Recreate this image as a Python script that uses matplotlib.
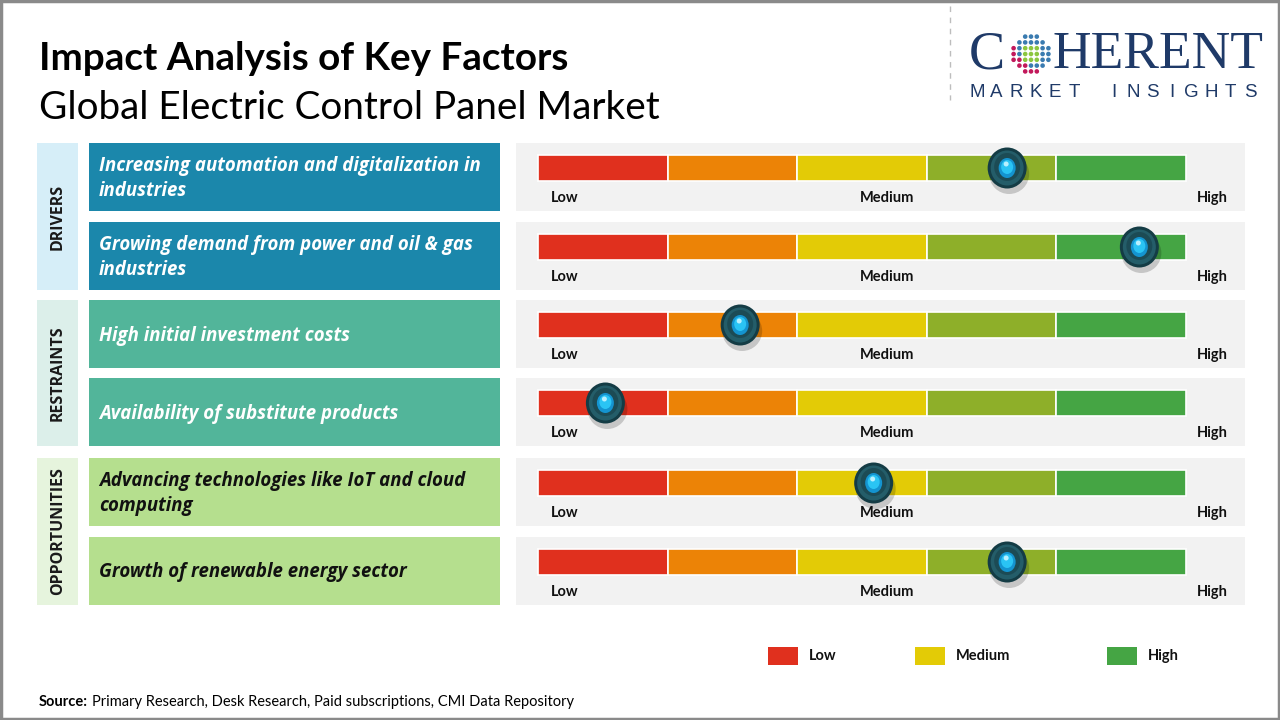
import numpy as np
import matplotlib
matplotlib.use("Agg")
import matplotlib.pyplot as plt
from matplotlib.patches import Rectangle, Circle, Ellipse

# data
groups = ["DRIVERS", "RESTRAINTS", "OPPORTUNITIES"]
factors = [
    "Increasing automation and digitalization in\nindustries",
    "Growing demand from power and oil & gas\nindustries",
    "High initial investment costs",
    "Availability of substitute products",
    "Advancing technologies like IoT and cloud\ncomputing",
    "Growth of renewable energy sector",
]
factor_group = [0, 0, 1, 1, 2, 2]
# impact position on a 0 (low) .. 5 (high) scale
impact = [3.62, 4.64, 1.56, 0.52, 2.59, 3.62]

segment_colors = ["#e0301e", "#ec8306", "#e3cb06", "#8eaf29", "#45a544"]
legend_labels = ["Low", "Medium", "High"]
legend_colors = ["#e0301e", "#e3cb06", "#45a544"]

box_colors = ["#1b87ab", "#52b59a", "#b5df8e"]
band_colors = ["#d6eef8", "#dcefea", "#e6f4dd"]
text_colors = ["white", "white", "#111111"]

W, H = 1280, 720
fig = plt.figure(figsize=(12.8, 7.2), dpi=100)
ax = fig.add_axes([0, 0, 1, 1])
ax.set_xlim(0, W)
ax.set_ylim(H, 0)
ax.axis("off")

# border
ax.add_patch(Rectangle((1, 1), W - 2, H - 2, fill=False, ec="#8a8a8a", lw=2.5))

# titles
ax.text(39, 58, "Impact Analysis of Key Factors", fontsize=27.8, fontweight="bold",
        family="Lato", va="center", ha="left", color="#000000")
ax.text(39, 108, "Global Electric Control Panel Market", fontsize=27.8,
        family="Lato", va="center", ha="left", color="#000000")

# logo
ax.plot([950, 950], [6, 100], ls=(0, (4, 4)), color="#bdbdbd", lw=1)
navy = "#1f3a68"
ax.text(969, 68.5, "C", fontsize=39, family="Liberation Serif", color=navy,
        va="baseline", ha="left")
ax.text(1053, 68.5, "HERENT", fontsize=38.5, family="Liberation Serif", color=navy,
        va="baseline", ha="left")
gx, gy = 1031, 54
for i in range(-3, 4):
    for j in range(-3, 4):
        px, py = gx + i * 5.8, gy + j * 5.8
        d = np.hypot(i, j)
        if d > 3.3:
            continue
        if d < 1.6:
            c = "#8cc63f"
        elif (i <= -1 and j >= 1 and d > 2.2) or (j >= 3) or (i <= -3):
            c = "#c2185b"
        else:
            c = "#3a7bb0"
        ax.add_patch(Circle((px, py), 2.3, color=c, lw=0))
letters = "MARKET INSIGHTS"
lx = np.linspace(977, 1250, len(letters))
for ch, x in zip(letters, lx):
    ax.text(x, 97, ch, fontsize=13.5, family="Liberation Sans", color=navy,
            va="baseline", ha="center")

# group bands
row_top = [143, 222, 300, 378, 458, 537]
row_h = 68
for g, name in enumerate(groups):
    rows = [k for k in range(len(factors)) if factor_group[k] == g]
    y0 = row_top[rows[0]]
    y1 = row_top[rows[-1]] + row_h
    ax.add_patch(Rectangle((37, y0), 41, y1 - y0, color=band_colors[g], lw=0))
    ax.text(58, (y0 + y1) / 2, name, rotation=90, fontsize=11.5, fontweight="bold",
            family="Open Sans", color="#1a1a1a", va="center", ha="center")

bar_x0, bar_x1 = 538, 1186
seg_w = (bar_x1 - bar_x0) / len(segment_colors)


def knob(x, y):
    ax.add_patch(Ellipse((x + 2, y + 6), 40, 40, color="#000000", alpha=0.18, lw=0))
    ax.add_patch(Ellipse((x, y), 39, 41, color="#143c45", lw=0))
    ax.add_patch(Ellipse((x, y), 33, 35, color="#245d69", lw=0))
    ax.add_patch(Ellipse((x, y - 1), 26, 28, color="#1c4b55", lw=0))
    ax.add_patch(Ellipse((x, y), 17, 20, color="#1494d0", lw=0))
    ax.add_patch(Ellipse((x, y - 1), 12, 14, color="#2ac4f4", lw=0))
    ax.add_patch(Ellipse((x - 1, y - 4), 5, 5, color="#b8f0ff", lw=0))


for k, txt in enumerate(factors):
    g = factor_group[k]
    y0 = row_top[k]
    ax.add_patch(Rectangle((89, y0), 411, row_h, color=box_colors[g], lw=0))
    ax.text(99, y0 + row_h / 2 + 1.5, txt, fontsize=13.4, fontweight="bold", style="italic",
            family="Open Sans", color=text_colors[g], va="center", ha="left",
            linespacing=1.3)

    # gauge panel
    ax.add_patch(Rectangle((516, y0), 729, row_h, color="#f2f2f2", lw=0))
    for s, c in enumerate(segment_colors):
        ax.add_patch(Rectangle((bar_x0 + s * seg_w, y0 + 12), seg_w, 26,
                               color=c, ec="white", lw=1.2))
    ly = y0 + 55
    ax.text(551, ly, "Low", fontsize=10.5, fontweight="bold", family="Lato",
            va="center", ha="left", color="#111111")
    ax.text(887, ly, "Medium", fontsize=10.5, fontweight="bold", family="Lato",
            va="center", ha="center", color="#111111")
    ax.text(1228, ly, "High", fontsize=10.5, fontweight="bold", family="Lato",
            va="center", ha="right", color="#111111")

    knob(bar_x0 + impact[k] * seg_w, y0 + 25)

# legend
leg_x = [768, 915, 1107]
for lab, c, x in zip(legend_labels, legend_colors, leg_x):
    ax.add_patch(Rectangle((x, 647), 30, 18, color=c, lw=0))
    ax.text(x + 41, 656, lab, fontsize=10.5, fontweight="bold", family="Lato",
            va="center", ha="left", color="#111111")

# source
ax.text(39, 702, "Source:", fontsize=10.5, fontweight="bold", family="Lato",
        va="center", ha="left", color="#000000")
ax.text(92, 702, "Primary Research, Desk Research, Paid subscriptions, CMI Data Repository",
        fontsize=10.5, family="Lato", va="center", ha="left", color="#000000")

fig.savefig("out.png", dpi=100, facecolor="white")
